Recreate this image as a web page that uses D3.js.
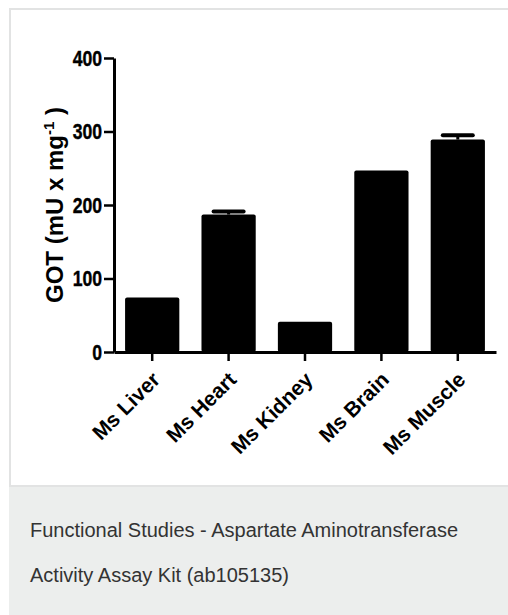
<!DOCTYPE html>
<html>
<head>
<meta charset="utf-8">
<script src="https://cdnjs.cloudflare.com/ajax/libs/d3/7.8.5/d3.min.js"></script>
<style>
  body { margin: 0; background: #fff; }
  svg { display: block; }
  .tick-y text { font-family: "Liberation Sans", Arial, sans-serif; font-weight: bold; font-size: 22px; fill: #000; stroke: #000; stroke-width: 0.4px; }
  .tick-x text { font-family: "Liberation Sans", Arial, sans-serif; font-weight: bold; font-size: 21px; fill: #000; }
  .caption { font-family: "Liberation Sans", Arial, sans-serif; font-size: 20px; fill: #333; }
</style>
</head>
<body>
<div id="chart"></div>
<script>
const W = 508, H = 615;

const tissues = ['Ms Liver', 'Ms Heart', 'Ms Kidney', 'Ms Brain', 'Ms Muscle'];
const got = [74, 187, 41, 247, 289];
const gotErr = [0, 4, 0, 0, 6];
const yTicks = [0, 100, 200, 300, 400];
const captionLines = ['Functional Studies - Aspartate Aminotransferase', 'Activity Assay Kit (ab105135)'];

const data = tissues.map((t, i) => ({ name: t, value: got[i], err: gotErr[i] }));

const svg = d3.select('#chart').append('svg')
    .attr('width', W)
    .attr('height', H);

// card and caption panel
svg.append('rect')
    .attr('x', 10).attr('y', 9)
    .attr('width', W + 10).attr('height', 477)
    .style('fill', '#fff')
    .style('stroke', '#e2e3e3')
    .style('stroke-width', 2);

svg.append('rect')
    .attr('x', 9).attr('y', 487)
    .attr('width', W).attr('height', H - 487)
    .style('fill', '#eceeed');

const x = d3.scaleBand()
    .domain(tissues)
    .range([114, 496])
    .paddingInner(0.29)
    .paddingOuter(0.145);

const y = d3.scaleLinear()
    .domain([0, 400])
    .range([352, 58]);

// bars
svg.append('g')
  .selectAll('rect')
    .data(data)
    .enter()
    .append('rect')
    .attr('x', d => x(d.name))
    .attr('y', d => y(d.value))
    .attr('width', x.bandwidth())
    .attr('height', d => y(0) - y(d.value))
    .attr('rx', 2)
    .style('fill', '#000');

// error caps (SEM, upper only)
const errs = svg.append('g')
  .selectAll('g')
    .data(data.filter(d => d.err > 0))
    .enter()
    .append('g');

errs.append('line')
    .attr('x1', d => x(d.name) + x.bandwidth() / 2)
    .attr('x2', d => x(d.name) + x.bandwidth() / 2)
    .attr('y1', d => y(d.value))
    .attr('y2', d => y(d.value + d.err))
    .style('stroke', '#000')
    .style('stroke-width', 3);

errs.append('line')
    .attr('x1', d => x(d.name) + x.bandwidth() / 2 - 15)
    .attr('x2', d => x(d.name) + x.bandwidth() / 2 + 15)
    .attr('y1', d => y(d.value + d.err))
    .attr('y2', d => y(d.value + d.err))
    .style('stroke', '#000')
    .style('stroke-width', 4)
    .style('stroke-linecap', 'round');

// y axis
const yAxis = svg.append('g')
    .attr('class', 'tick-y')
    .attr('transform', 'translate(114,0)')
    .call(d3.axisLeft(y).tickValues(yTicks).tickSize(10).tickSizeOuter(0).tickPadding(2));

yAxis.select('.domain').style('stroke', '#000').style('stroke-width', 3);
yAxis.selectAll('.tick line').style('stroke', '#000').style('stroke-width', 2.5);
// tick digits are condensed in the original
yAxis.selectAll('.tick text')
    .attr('x', 0)
    .attr('transform', 'translate(-12,0) scale(0.8,1)');

// x axis
const xAxis = svg.append('g')
    .attr('class', 'tick-x')
    .attr('transform', 'translate(0,352)')
    .call(d3.axisBottom(x).tickSize(9).tickSizeOuter(0).tickPadding(4));

xAxis.select('.domain').style('stroke', '#000').style('stroke-width', 3);
xAxis.selectAll('.tick line').style('stroke', '#000').style('stroke-width', 2.5);
xAxis.selectAll('.tick text')
    .attr('text-anchor', 'end')
    .attr('dy', null)
    .attr('x', 9)
    .attr('y', 29)
    .attr('transform', 'rotate(-45 9 29)');

// y axis title
const yTitle = svg.append('text')
    .attr('transform', 'translate(63,' + (y(200)) + ') rotate(-90)')
    .attr('text-anchor', 'middle')
    .style('font-family', '"Liberation Sans", Arial, sans-serif')
    .style('font-weight', 'bold')
    .style('font-size', '24px')
    .style('fill', '#000');

yTitle.append('tspan').text('GOT (mU x mg');
yTitle.append('tspan').attr('dy', -9).style('font-size', '15px').text('-1');
yTitle.append('tspan').attr('dy', 9).text(' )');

// caption
svg.append('g')
  .selectAll('text')
    .data(captionLines)
    .enter()
    .append('text')
    .attr('class', 'caption')
    .attr('x', 30)
    .attr('y', (d, i) => 537 + i * 45)
    .text(d => d);
</script>
</body>
</html>
